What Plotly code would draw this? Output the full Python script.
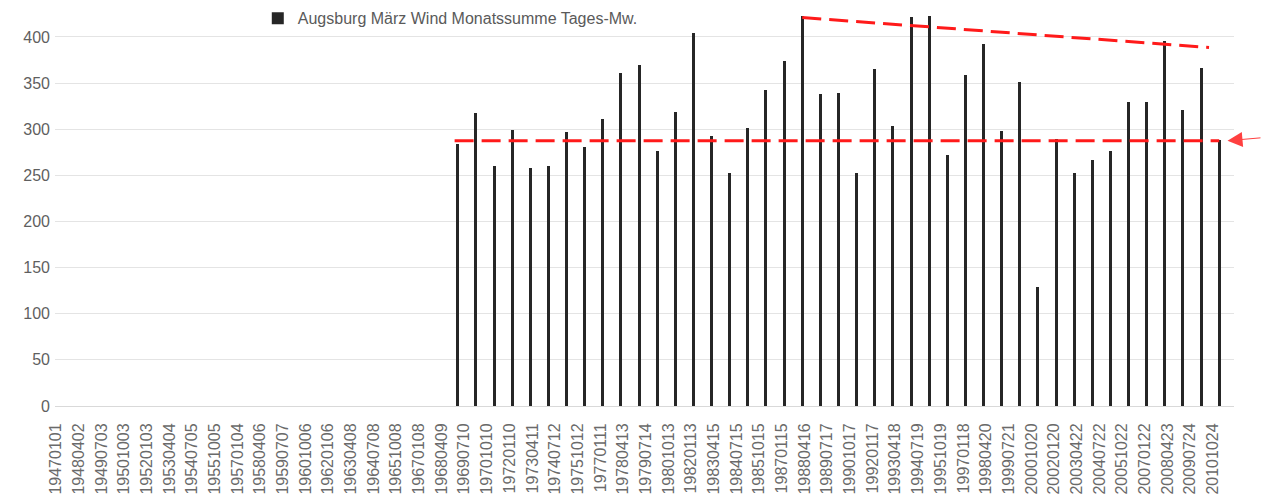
import plotly.graph_objects as go
import pandas as pd

# ---- data ----
years = list(range(1969, 2012))
values = [284, 318, 260, 299, 258, 260, 297, 281, 311, 361,
          370, 276, 319, 404, 293, 252, 301, 343, 374, 423,
          338, 339, 253, 365, 303, 422, 423, 272, 359, 392,
          298, 351, 129, 289, 253, 267, 276, 329, 330, 396,
          321, 366, 288]
series_name = "Augsburg März Wind Monatssumme Tages-Mw."

ref_level = 287.5                       # horizontal reference line (value of last year)
ref_dates = ["1968-12-27", "2011-03-01"]
trend_dates = ["1988-03-01", "2010-08-08"]
trend_values = [421, 388.5]

y_ticks = [0, 50, 100, 150, 200, 250, 300, 350, 400]
x_range = ["1946-12-12", "2011-12-24"]
y_max = 440
DAY_MS = 86400000

bar_dates = pd.to_datetime([f"{y}-03-01" for y in years])

fig = go.Figure()
fig.add_trace(go.Bar(
    x=bar_dates, y=values, name=series_name,
    marker=dict(color="#262626", line=dict(width=0)),
    width=[60 * DAY_MS] * len(values),
    showlegend=True,
))
fig.add_trace(go.Scatter(
    x=pd.to_datetime(ref_dates), y=[ref_level, ref_level], mode="lines",
    line=dict(color="#ff1a1a", width=3, dash="19px,8px"),
    showlegend=False, hoverinfo="skip",
))
fig.add_trace(go.Scatter(
    x=pd.to_datetime(trend_dates), y=trend_values, mode="lines",
    line=dict(color="#ff1a1a", width=3, dash="19px,8px"),
    showlegend=False, hoverinfo="skip",
))

fig.add_annotation(
    x=0.9945, xref="paper", y=ref_level, yref="y", text="",
    showarrow=True, arrowhead=2, arrowsize=3, arrowwidth=1,
    arrowcolor="#ff4040", ax=36, ay=-3, axref="pixel", ayref="pixel",
)

tick_font = dict(family="Liberation Sans, Arial, sans-serif", size=16, color="#5f5f5f")

fig.update_layout(
    width=1262, height=495,
    margin=dict(l=55, r=28, t=0, b=89),
    paper_bgcolor="white", plot_bgcolor="white",
    bargap=0,
    legend=dict(
        x=0.172, y=0.955, xanchor="left", yanchor="middle",
        orientation="h",
        font=dict(family="Liberation Sans, Arial, sans-serif", size=16, color="#5a5a5a"),
        bgcolor="rgba(0,0,0,0)", itemwidth=30,
    ),
    font=dict(family="Liberation Sans, Arial, sans-serif"),
)
fig.update_xaxes(
    type="date", range=x_range,
    tick0="1947-01-01", dtick=457 * DAY_MS, tickformat="%Y%m%d",
    tickangle=-90, tickfont=dict(family="Liberation Sans, Arial, sans-serif", size=16, color="#6a6a6a"),
    showgrid=False, showline=True, linecolor="#d9d9d9", linewidth=1,
    ticks="", ticklabelstandoff=10,
)
fig.update_yaxes(
    range=[0, y_max], tickvals=y_ticks,
    tickfont=tick_font,
    showgrid=True, gridcolor="#e4e4e4", gridwidth=1,
    zeroline=False, showline=False, ticks="", ticklabelstandoff=4,
)

fig.write_html("out.html", config={"displayModeBar": False},
               post_script="document.body.style.margin='0';")
